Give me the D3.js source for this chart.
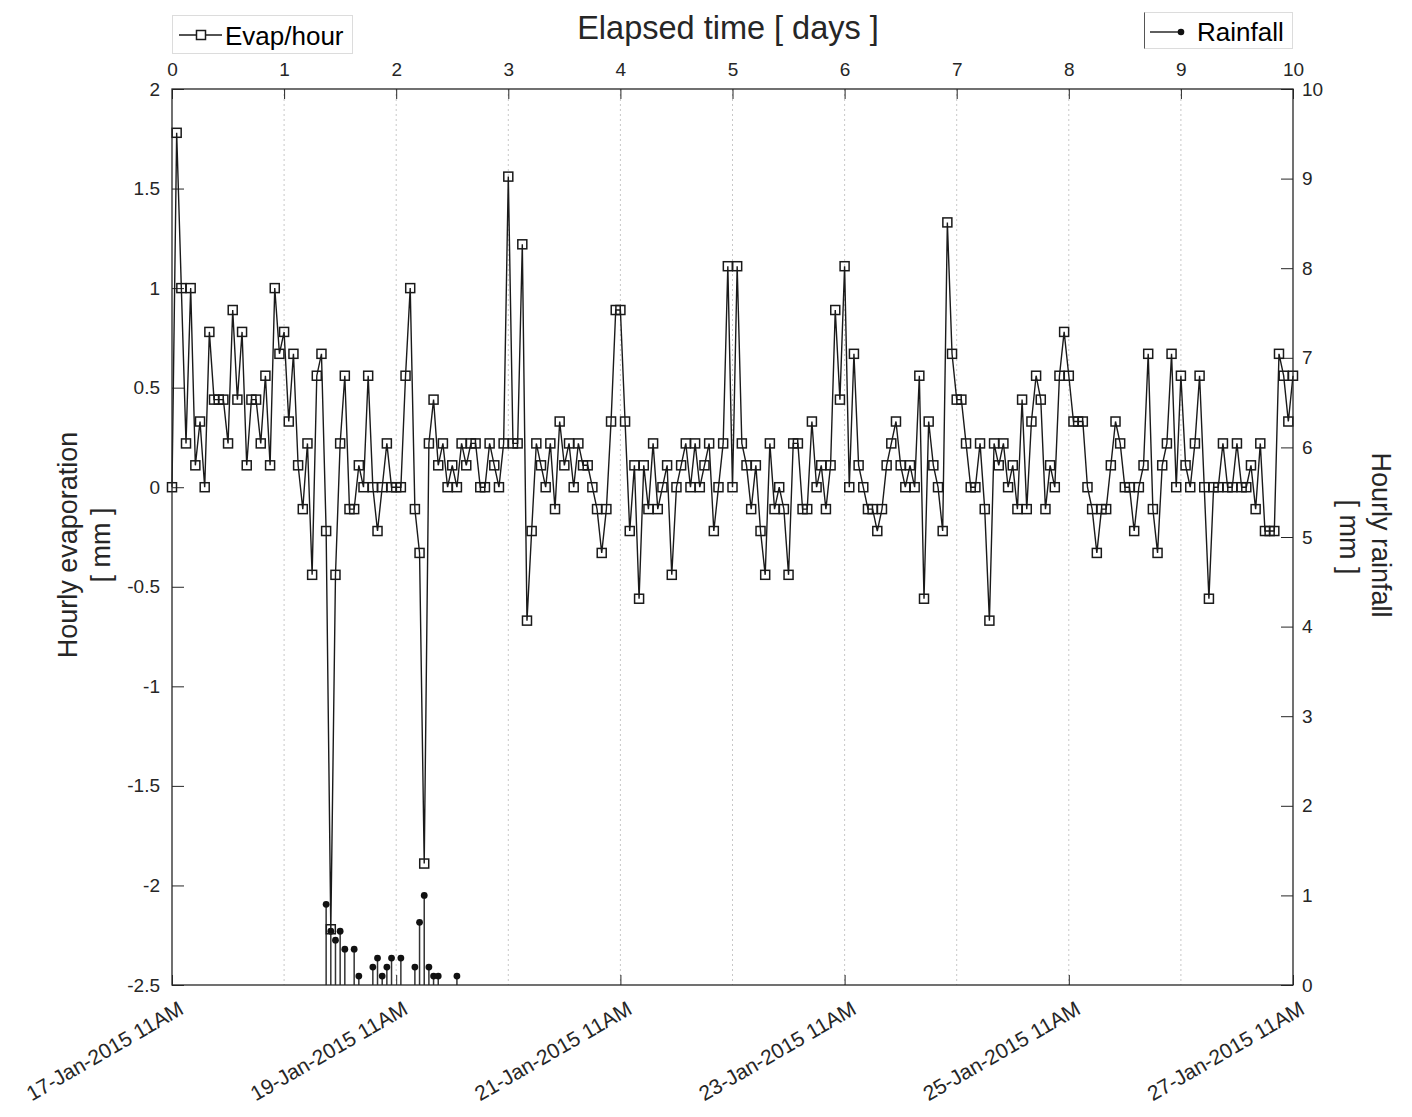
<!DOCTYPE html>
<html>
<head>
<meta charset="utf-8">
<script src="https://cdn.jsdelivr.net/npm/d3@7"></script>
<style>
  body { margin: 0; background: #fff; }
  svg { display: block; font-family: Arial, "Liberation Sans", sans-serif; }
  .tick text { fill: #262626; font-size: 19px; }
  .tick line { stroke: #262626; }
</style>
</head>
<body>
<svg width="1412" height="1117"></svg>
<script>
// hourly evaporation [mm], one value per hour from t = 0 h to t = 240 h
const evap = [
  0, 1.78, 1.0, 0.22, 1.0, 0.11, 0.33, 0, 0.78, 0.44,
  0.44, 0.44, 0.22, 0.89, 0.44, 0.78, 0.11, 0.44, 0.44, 0.22,
  0.56, 0.11, 1.0, 0.67, 0.78, 0.33, 0.67, 0.11, -0.11, 0.22,
  -0.44, 0.56, 0.67, -0.22, -2.22, -0.44, 0.22, 0.56, -0.11, -0.11,
  0.11, 0, 0.56, 0, -0.22, 0, 0.22, 0, 0, 0,
  0.56, 1.0, -0.11, -0.33, -1.89, 0.22, 0.44, 0.11, 0.22, 0,
  0.11, 0, 0.22, 0.11, 0.22, 0.22, 0, 0, 0.22, 0.11,
  0, 0.22, 1.56, 0.22, 0.22, 1.22, -0.67, -0.22, 0.22, 0.11,
  0, 0.22, -0.11, 0.33, 0.11, 0.22, 0, 0.22, 0.11, 0.11,
  0, -0.11, -0.33, -0.11, 0.33, 0.89, 0.89, 0.33, -0.22, 0.11,
  -0.56, 0.11, -0.11, 0.22, -0.11, 0, 0.11, -0.44, 0, 0.11,
  0.22, 0, 0.22, 0, 0.11, 0.22, -0.22, 0, 0.22, 1.11,
  0, 1.11, 0.22, 0.11, -0.11, 0.11, -0.22, -0.44, 0.22, -0.11,
  0, -0.11, -0.44, 0.22, 0.22, -0.11, -0.11, 0.33, 0, 0.11,
  -0.11, 0.11, 0.89, 0.44, 1.11, 0, 0.67, 0.11, 0, -0.11,
  -0.11, -0.22, -0.11, 0.11, 0.22, 0.33, 0.11, 0, 0.11, 0,
  0.56, -0.56, 0.33, 0.11, 0, -0.22, 1.33, 0.67, 0.44, 0.44,
  0.22, 0, 0, 0.22, -0.11, -0.67, 0.22, 0.11, 0.22, 0,
  0.11, -0.11, 0.44, -0.11, 0.33, 0.56, 0.44, -0.11, 0.11, 0,
  0.56, 0.78, 0.56, 0.33, 0.33, 0.33, 0, -0.11, -0.33, -0.11,
  -0.11, 0.11, 0.33, 0.22, 0, 0, -0.22, 0, 0.11, 0.67,
  -0.11, -0.33, 0.11, 0.22, 0.67, 0, 0.56, 0.11, 0, 0.22,
  0.56, 0, -0.56, 0, 0, 0.22, 0, 0, 0.22, 0,
  0, 0.11, -0.11, 0.22, -0.22, -0.22, -0.22, 0.67, 0.56, 0.33,
  0.56
];

// hourly rainfall [mm], only the hours where it rained
const rainHours  = [33, 34, 35, 36, 37, 39, 40, 43, 44, 45, 46, 47, 49, 52, 53, 54, 55, 56, 57, 61];
const rainValues = [0.9, 0.6, 0.5, 0.6, 0.4, 0.4, 0.1, 0.2, 0.3, 0.1, 0.2, 0.3, 0.3, 0.2, 0.7, 1.0, 0.2, 0.1, 0.1, 0.1];

const dayTicks = [0, 1, 2, 3, 4, 5, 6, 7, 8, 9, 10];
const dateTicks = [0, 2, 4, 6, 8, 10];
const dateLabels = ['17-Jan-2015 11AM', '19-Jan-2015 11AM', '21-Jan-2015 11AM',
                    '23-Jan-2015 11AM', '25-Jan-2015 11AM', '27-Jan-2015 11AM'];
const evapTicks = [-2.5, -2, -1.5, -1, -0.5, 0, 0.5, 1, 1.5, 2];
const rainTicks = [0, 1, 2, 3, 4, 5, 6, 7, 8, 9, 10];

const svg = d3.select('svg');
const plotL = 172, plotR = 1293, plotT = 89, plotB = 985;

const x = d3.scaleLinear().domain([0, 10]).range([plotL, plotR]);
const yL = d3.scaleLinear().domain([-2.5, 2]).range([plotB, plotT]);
const yR = d3.scaleLinear().domain([0, 10]).range([plotB, plotT]);

// vertical dotted grid
svg.append('g').selectAll('line')
    .data(dayTicks.filter(d => d > 0 && d < 10))
    .enter().append('line')
    .attr('x1', d => x(d)).attr('x2', d => x(d))
    .attr('y1', plotT).attr('y2', plotB)
    .attr('stroke', '#c8c8c8')
    .attr('stroke-dasharray', '2,3');

// axes (plain hyphen for negatives, like the original)
const fmt = d => String(d);

svg.append('g')
    .attr('transform', `translate(${plotL},0)`)
    .call(d3.axisLeft(yL).tickValues(evapTicks).tickFormat(fmt).tickSize(-12).tickPadding(12))
    .call(g => g.select('.domain').remove());

svg.append('g')
    .attr('transform', `translate(${plotR},0)`)
    .call(d3.axisRight(yR).tickValues(rainTicks).tickFormat(fmt).tickSize(-12).tickPadding(9))
    .call(g => g.select('.domain').remove());

svg.append('g')
    .attr('transform', `translate(0,${plotT})`)
    .call(d3.axisTop(x).tickValues(dayTicks).tickFormat(fmt).tickSize(-10).tickPadding(13))
    .call(g => g.select('.domain').remove());

svg.append('g')
    .attr('transform', `translate(0,${plotB})`)
    .call(d3.axisBottom(x).tickValues(dateTicks).tickSize(-10).tickFormat(''))
    .call(g => g.select('.domain').remove());

svg.append('g').selectAll('text')
    .data(dateTicks)
    .enter().append('text')
    .attr('transform', d => `translate(${x(d) + 13},${plotB + 28}) rotate(-30)`)
    .attr('text-anchor', 'end')
    .attr('fill', '#262626')
    .style('font-size', '21px')
    .text((d, i) => dateLabels[i]);

// rainfall stems
const rain = rainHours.map((h, i) => ({ t: h / 24, v: rainValues[i] }));
const rainG = svg.append('g');
rainG.selectAll('line')
    .data(rain)
    .enter().append('line')
    .attr('x1', d => x(d.t)).attr('x2', d => x(d.t))
    .attr('y1', yR(0)).attr('y2', d => yR(d.v))
    .attr('stroke', '#333')
    .attr('stroke-width', 1.5);
rainG.selectAll('circle')
    .data(rain)
    .enter().append('circle')
    .attr('cx', d => x(d.t)).attr('cy', d => yR(d.v))
    .attr('r', 3.4)
    .attr('fill', '#111');

// evaporation line + square markers
const pts = evap.map((v, i) => ({ t: i / 24, v: v }));
const line = d3.line().x(d => x(d.t)).y(d => yL(d.v));

svg.append('path')
    .datum(pts)
    .attr('d', line)
    .attr('fill', 'none')
    .attr('stroke', '#1a1a1a')
    .attr('stroke-width', 1.4);

const ms = 9;
svg.append('g').selectAll('rect')
    .data(pts)
    .enter().append('rect')
    .attr('x', d => x(d.t) - ms / 2)
    .attr('y', d => yL(d.v) - ms / 2)
    .attr('width', ms).attr('height', ms)
    .attr('fill', 'none')
    .attr('stroke', '#1a1a1a')
    .attr('stroke-width', 1.5);

// plot frame
svg.append('rect')
    .attr('x', plotL).attr('y', plotT)
    .attr('width', plotR - plotL).attr('height', plotB - plotT)
    .attr('fill', 'none')
    .attr('stroke', '#262626')
    .attr('stroke-width', 1.3);

// titles
svg.append('text')
    .attr('x', 728).attr('y', 39)
    .attr('text-anchor', 'middle')
    .attr('fill', '#262626')
    .style('font-size', '32.5px')
    .text('Elapsed time [ days ]');

const leftLab = svg.append('text')
    .attr('transform', 'translate(0,545) rotate(-90)')
    .attr('text-anchor', 'middle')
    .attr('fill', '#262626')
    .style('font-size', '27px');
leftLab.append('tspan').attr('x', 0).attr('y', 77).text('Hourly evaporation');
leftLab.append('tspan').attr('x', 0).attr('y', 110).text('[ mm ]');

svg.append('text')
    .attr('transform', 'translate(1372,535) rotate(90)')
    .attr('text-anchor', 'middle')
    .attr('fill', '#262626')
    .style('font-size', '27px')
    .text('Hourly rainfall');
svg.append('text')
    .attr('transform', 'translate(1340,537) rotate(90)')
    .attr('text-anchor', 'middle')
    .attr('fill', '#262626')
    .style('font-size', '27px')
    .text('[ mm ]');

// legends
const leg1 = svg.append('g');
leg1.append('rect')
    .attr('x', 172.5).attr('y', 15.5).attr('width', 180).attr('height', 38)
    .attr('fill', '#fff').attr('stroke', '#dcdcdc');
leg1.append('line')
    .attr('x1', 179).attr('x2', 222).attr('y1', 35).attr('y2', 35)
    .attr('stroke', '#1a1a1a').attr('stroke-width', 1.4);
leg1.append('rect')
    .attr('x', 196.5).attr('y', 30.5).attr('width', ms).attr('height', ms)
    .attr('fill', '#fff').attr('stroke', '#1a1a1a').attr('stroke-width', 1.5);
leg1.append('text')
    .attr('x', 225).attr('y', 45)
    .attr('fill', '#000')
    .style('font-size', '26px')
    .text('Evap/hour');

const leg2 = svg.append('g');
leg2.append('rect')
    .attr('x', 1144.5).attr('y', 12.5).attr('width', 148).attr('height', 36)
    .attr('fill', '#fff').attr('stroke', '#dcdcdc');
leg2.append('line')
    .attr('x1', 1144.5).attr('x2', 1144.5).attr('y1', 12.5).attr('y2', 48.5)
    .attr('stroke', '#555');
leg2.append('line')
    .attr('x1', 1150).attr('x2', 1181).attr('y1', 32).attr('y2', 32)
    .attr('stroke', '#1a1a1a').attr('stroke-width', 1.4);
leg2.append('circle')
    .attr('cx', 1181).attr('cy', 32).attr('r', 3.3)
    .attr('fill', '#111');
leg2.append('text')
    .attr('x', 1197).attr('y', 41)
    .attr('fill', '#000')
    .style('font-size', '26px')
    .text('Rainfall');
</script>
</body>
</html>
